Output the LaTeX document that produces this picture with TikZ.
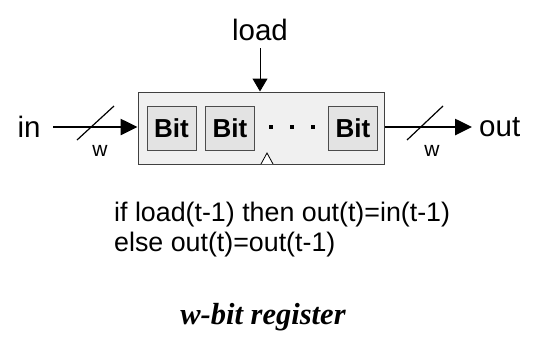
\documentclass[tikz,border=0pt]{standalone}
\usepackage{fontspec}
\setmainfont{Liberation Sans}
\newfontfamily\timesfont{Liberation Serif}
\usetikzlibrary{arrows.meta}
\begin{document}
\begin{tikzpicture}[x=1pt,y=-1pt,
  regbox/.style={draw=black!75,line width=1pt,fill=black!6,minimum width=246pt,minimum height=72pt,inner sep=0pt},
  bitbox/.style={draw=black!70,line width=1pt,fill=black!11,minimum width=49pt,minimum height=44pt,inner sep=0pt,font=\fontsize{26}{28}\selectfont\bfseries},
  lbl/.style={font=\fontsize{29.5}{32}\selectfont,inner sep=0pt},
  wlbl/.style={font=\fontsize{21}{24}\selectfont,inner sep=0pt},
  bus/.style={line width=2.6pt,-{Triangle[length=17pt,width=16pt]}},
  slash/.style={line width=1.2pt},
  dotsq/.style={fill=black,minimum size=4pt,inner sep=0pt},
]
\useasboundingbox (0,0) rectangle (535,349);
% register body
\node[regbox] (reg) at (261,128) {};
\node[bitbox] (b1) at (171.5,128) {Bit};
\node[bitbox] (b2) at (230,128) {Bit};
\node[bitbox] (b3) at (353,128) {Bit};
\node[dotsq] (d1) at (271,127) {};
\node[dotsq] (d2) at (292,127) {};
\node[dotsq] (d3) at (313,127) {};
% clock triangle
\draw[line width=0.8pt,fill=white] (261,164) -- (267,153) -- (273,164);
% load
\node[lbl] (load) at (260,30) {load};
\coordinate (ltop) at (260,48);
\draw[line width=1pt,-{Triangle[length=13pt,width=15pt]}] (ltop) -- (reg.north -| ltop);
% input
\node[lbl] (in) at (29,127) {in};
\coordinate (inS) at (53,127);
\draw[bus] (inS) -- (inS -| reg.west);
\coordinate (s1a) at (77,140);
\coordinate (s1b) at (114,106);
\draw[slash] (s1a) -- (s1b);
\node[wlbl] (w1) at (100,151) {w};
% output
\coordinate (outE) at (472,127);
\draw[bus] (outE -| reg.east) -- (outE);
\node[lbl,anchor=west] (out) at (479,127) {out};
\coordinate (s2a) at (407,140);
\coordinate (s2b) at (443,106);
\draw[slash] (s2a) -- (s2b);
\node[wlbl] (w2) at (432,151) {w};
% behaviour text
\node[anchor=west,inner sep=0pt,font=\fontsize{26.8}{30}\selectfont] (t1) at (114,215) {if load(t-1) then out(t)=in(t-1)};
\node[anchor=west,inner sep=0pt,font=\fontsize{26.8}{30}\selectfont] (t2) at (114,245) {else out(t)=out(t-1)};
% caption
\node[inner sep=0pt,font=\fontsize{30.5}{32}\selectfont\timesfont\bfseries\itshape] (cap) at (263,317) {w-bit register};
\end{tikzpicture}
\end{document}
